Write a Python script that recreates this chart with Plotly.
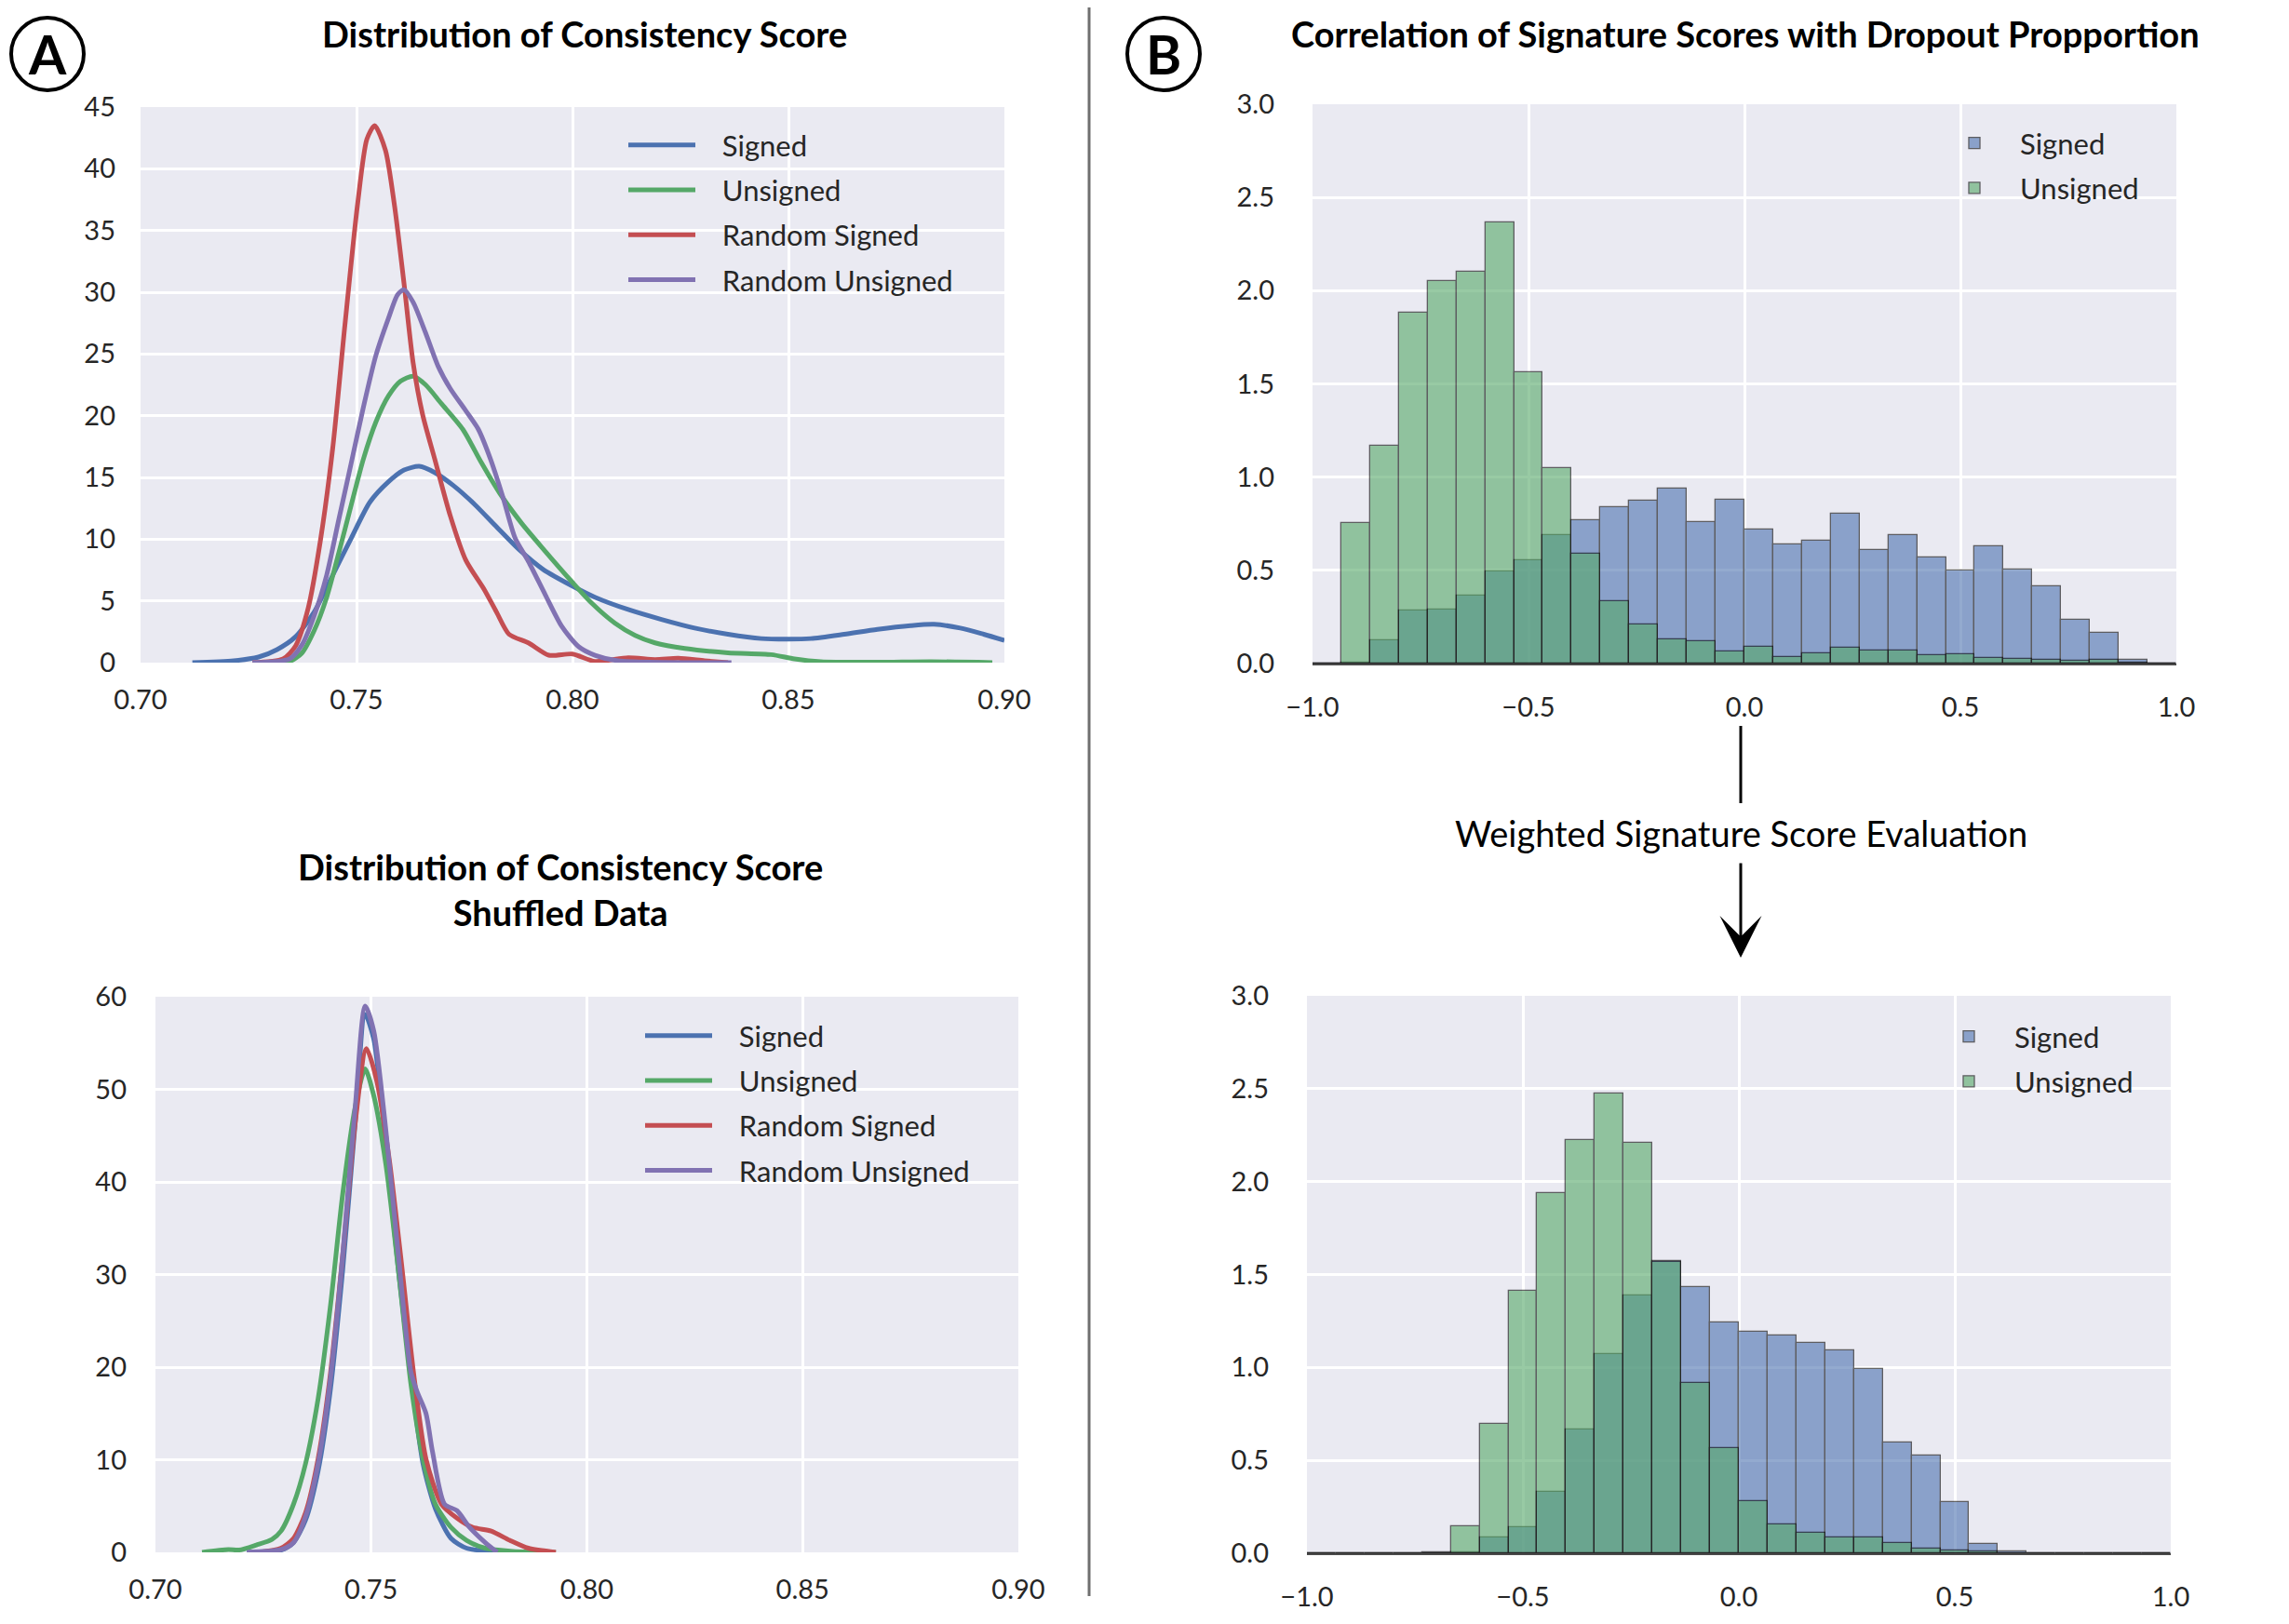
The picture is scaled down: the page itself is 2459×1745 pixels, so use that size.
import numpy as np
import plotly.graph_objects as go

# the page body adds an 8 px margin, so the figure is sized to fit inside the window
PAGE_W, PAGE_H, OFF = 2459, 1745, 8
W, H = PAGE_W - 2 * OFF, PAGE_H - 2 * OFF
FONT = "Lato"
BG = "#EAEAF2"
TICK = "#262626"
COLORS = {"Signed": "#4C72B0", "Unsigned": "#55A868",
          "Random Signed": "#C44E52", "Random Unsigned": "#8172B2"}

# %% Panel A (top): density of consistency score
a1_signed_x = [0.712, 0.7216, 0.7273, 0.7316, 0.7359, 0.7402, 0.7445, 0.7488, 0.7531,
               0.7574, 0.761, 0.7645, 0.7681, 0.7724, 0.7774, 0.7824, 0.7875, 0.7932,
               0.800, 0.8052, 0.8129, 0.8206, 0.8283, 0.836, 0.8437, 0.8498, 0.8552,
               0.8629, 0.8706, 0.8783, 0.8837, 0.8898, 0.8952, 0.900]
a1_signed_y = [0, 0.15, 0.45, 1.06, 2.1, 4.1, 7.1, 10.1, 13.0, 14.65, 15.6, 15.9, 15.4,
               14.35, 12.8, 11.0, 9.2, 7.55, 6.2, 5.3, 4.3, 3.5, 2.8, 2.3, 1.95, 1.9,
               1.95, 2.3, 2.7, 3.0, 3.1, 2.8, 2.3, 1.8]

a1_unsigned_x = [0.7287, 0.7345, 0.7373, 0.7402, 0.7431, 0.7459, 0.7488, 0.7516, 0.7545,
                 0.7574, 0.7602, 0.7631, 0.766, 0.7696, 0.7746, 0.7789, 0.7832, 0.7882,
                 0.7935, 0.800, 0.8045, 0.8098, 0.8145, 0.8191, 0.826, 0.836, 0.846,
                 0.8514, 0.8575, 0.8706, 0.8829, 0.8972]
a1_unsigned_y = [0, 0.1, 0.75, 2.6, 5.3, 8.9, 12.8, 16.5, 19.5, 21.6, 22.8, 23.2, 22.5,
                 21.0, 18.9, 16.2, 13.7, 11.3, 9.1, 6.5, 4.8, 3.2, 2.2, 1.6, 1.15, 0.8,
                 0.65, 0.3, 0.07, 0.03, 0.08, 0]

a1_rand_signed_x = [0.7259, 0.733, 0.7359, 0.7388, 0.7416, 0.7445, 0.7473, 0.7502, 0.7524,
                    0.7542, 0.7567, 0.7588, 0.761, 0.7631, 0.7653, 0.7681, 0.7717, 0.7753,
                    0.7796, 0.7824, 0.7853, 0.7898, 0.7945, 0.800, 0.8052, 0.8129, 0.8191,
                    0.8245, 0.8306, 0.836]
a1_rand_signed_y = [0, 0.3, 1.36, 4.4, 9.8, 17.4, 27.3, 37.0, 42.4, 43.5, 41.5, 37.0, 30.7,
                    24.3, 20.1, 16.5, 11.9, 8.3, 5.9, 4.1, 2.3, 1.6, 0.6, 0.7, 0.1, 0.4,
                    0.25, 0.35, 0.15, 0]

a1_rand_unsigned_x = [0.7259, 0.7345, 0.7373, 0.7402, 0.7431, 0.7459, 0.7488, 0.7516,
                      0.7545, 0.7574, 0.7595, 0.761, 0.7631, 0.766, 0.7689, 0.7717, 0.7753,
                      0.7782, 0.781, 0.7839, 0.7867, 0.7898, 0.7937, 0.7975, 0.8014,
                      0.8052, 0.8106, 0.8368]
a1_rand_unsigned_y = [0, 0.3, 1.4, 3.8, 7.1, 11.6, 16.2, 20.7, 24.9, 27.9, 29.8, 30.2, 29.2,
                      26.7, 24.0, 22.2, 20.4, 18.9, 16.5, 13.4, 10.1, 8.2, 5.5, 2.95, 1.3,
                      0.6, 0.15, 0]

# %% Panel A (bottom): shuffled data
a2_signed_x = [0.7212, 0.7291, 0.732, 0.7348, 0.7377, 0.7405, 0.7434, 0.7463, 0.7486,
               0.7506, 0.7534, 0.7563, 0.7592, 0.762, 0.7649, 0.7685, 0.7721, 0.7778, 0.7828]
a2_signed_y = [0, 0.25, 1.06, 3.5, 8.8, 17.4, 30.5, 46.4, 58.1, 55.4, 44.0, 30.5, 19.1,
               9.6, 4.7, 1.5, 0.45, 0.1, 0]

a2_unsigned_x = [0.7108, 0.7169, 0.7194, 0.7234, 0.727, 0.7291, 0.732, 0.7348, 0.7377,
                 0.7405, 0.7434, 0.7463, 0.7486, 0.7506, 0.7534, 0.7563, 0.7592, 0.762,
                 0.7649, 0.7685, 0.7721, 0.7764, 0.7828, 0.7928]
a2_unsigned_y = [0, 0.3, 0.25, 0.8, 1.4, 2.3, 5.2, 9.6, 16.6, 26.4, 38.7, 48.1, 52.2, 49.3,
                 41.9, 30.5, 18.2, 10.1, 5.2, 2.7, 1.3, 0.45, 0.1, 0]

a2_rand_signed_x = [0.7241, 0.7291, 0.732, 0.7348, 0.7377, 0.7405, 0.7434, 0.7463, 0.7489,
                    0.7513, 0.7542, 0.757, 0.7599, 0.7627, 0.7663, 0.7699, 0.7735, 0.7778,
                    0.7821, 0.7864, 0.7928]
a2_rand_signed_y = [0, 0.45, 1.5, 4.3, 10.1, 19.1, 32.1, 46.4, 54.4, 50.9, 42.4, 31.3,
                    19.1, 10.1, 5.2, 3.7, 2.7, 2.3, 1.3, 0.45, 0]

a2_rand_unsigned_x = [0.7212, 0.7291, 0.732, 0.7348, 0.7377, 0.7405, 0.7434, 0.7463,
                      0.7486, 0.7506, 0.7534, 0.7563, 0.7592, 0.7606, 0.7627, 0.7642,
                      0.767, 0.7699, 0.7728, 0.7764, 0.7792]
a2_rand_unsigned_y = [0, 0.3, 1.06, 3.9, 9.6, 18.6, 32.1, 48.1, 59.0, 56.3, 45.6, 32.1,
                      19.5, 17.4, 15.0, 10.9, 5.2, 4.5, 2.7, 1.06, 0]

# %% Panel B: histograms, 30 bins over [-1, 1]
bin_edges = np.linspace(-1, 1, 31)
bin_mid = (bin_edges[:-1] + bin_edges[1:]) / 2
bin_w = bin_edges[1] - bin_edges[0]

b1_signed = [0, 0.005, 0.124, 0.285, 0.290, 0.365, 0.494, 0.553, 0.689, 0.769, 0.839,
             0.875, 0.936, 0.758, 0.881, 0.719, 0.639, 0.658, 0.806, 0.608, 0.689,
             0.567, 0.500, 0.628, 0.505, 0.412, 0.234, 0.165, 0.018, 0]
b1_unsigned = [0, 0.756, 1.169, 1.881, 2.050, 2.100, 2.364, 1.561, 1.047, 0.589, 0.335,
               0.209, 0.131, 0.120, 0.067, 0.089, 0.033, 0.054, 0.085, 0.069, 0.071,
               0.043, 0.051, 0.028, 0.027, 0.022, 0.014, 0.022, 0.007, 0]

b2_signed = [0, 0, 0, 0, 0.003, 0.007, 0.084, 0.140, 0.331, 0.665, 1.070, 1.388, 1.575,
             1.433, 1.240, 1.193, 1.173, 1.131, 1.092, 0.994, 0.595, 0.528, 0.276, 0.048,
             0.012, 0, 0, 0, 0, 0]
b2_unsigned = [0, 0, 0, 0, 0, 0.143, 0.696, 1.411, 1.936, 2.223, 2.475, 2.207, 1.570,
               0.919, 0.564, 0.279, 0.154, 0.110, 0.084, 0.084, 0.057, 0.027, 0.017,
               0.012, 0, 0, 0, 0, 0, 0]


def fx(px):
    return (px - OFF) / W


def fy(py):
    return 1 - (py - OFF) / H


GAP = "\u00a0\u00a0\u00a0"  # room between legend swatch and label

fig = go.Figure()

kde_panels = [
    ("x", "y", "legend", [
        ("Signed", a1_signed_x, a1_signed_y),
        ("Unsigned", a1_unsigned_x, a1_unsigned_y),
        ("Random Signed", a1_rand_signed_x, a1_rand_signed_y),
        ("Random Unsigned", a1_rand_unsigned_x, a1_rand_unsigned_y)]),
    ("x2", "y2", "legend2", [
        ("Signed", a2_signed_x, a2_signed_y),
        ("Unsigned", a2_unsigned_x, a2_unsigned_y),
        ("Random Signed", a2_rand_signed_x, a2_rand_signed_y),
        ("Random Unsigned", a2_rand_unsigned_x, a2_rand_unsigned_y)]),
]
for xa, ya, leg, series in kde_panels:
    for name, xs, ys in series:
        fig.add_trace(go.Scatter(x=xs, y=ys, mode="lines", name=GAP + name,
                                 line=dict(color=COLORS[name], width=5,
                                           shape="spline", smoothing=0.7),
                                 xaxis=xa, yaxis=ya, legend=leg,
                                 legendgroup=leg + name))

hist_panels = [("x3", "y3", "legend3", b1_signed, b1_unsigned),
               ("x4", "y4", "legend4", b2_signed, b2_unsigned)]
for xa, ya, leg, sig, uns in hist_panels:
    for name, vals in (("Signed", sig), ("Unsigned", uns)):
        fig.add_trace(go.Bar(x=bin_mid, y=vals, width=bin_w, name=name,
                             marker=dict(color=COLORS[name],
                                         line=dict(color="black", width=1.3)),
                             opacity=0.6, xaxis=xa, yaxis=ya, legend=leg,
                             legendgroup=leg + name))

tickfont = dict(family=FONT, size=29, color=TICK)
base_axis = dict(showgrid=True, gridcolor="white", gridwidth=3, zeroline=False,
                 showline=False, ticks="", tickfont=tickfont, automargin=False)

kde_x = dict(base_axis, range=[0.70, 0.90], tick0=0.70, dtick=0.05, tickformat=".2f",
             ticklabelstandoff=20)
hist_x = dict(base_axis, range=[-1, 1], tick0=-1, dtick=0.5, tickformat=".1f",
              ticklabelstandoff=20, showline=True, linecolor="#4a4a4a", linewidth=2)
hist_y = dict(base_axis, range=[0, 3], tick0=0, dtick=0.5, tickformat=".1f",
              ticklabelstandoff=40)

line_legend = dict(xanchor="left", yanchor="top", bgcolor="rgba(0,0,0,0)",
                   font=dict(family=FONT, size=31, color=TICK), tracegroupgap=5,
                   itemwidth=72)
bar_legend = dict(line_legend, itemwidth=88)

fig.update_layout(
    width=W, height=H, margin=dict(l=0, r=0, t=0, b=0, autoexpand=False),
    paper_bgcolor="white", plot_bgcolor=BG, barmode="overlay", bargap=0,
    xaxis=dict(kde_x, domain=[fx(151), fx(1079)], anchor="y"),
    yaxis=dict(base_axis, domain=[fy(712), fy(115)], range=[0, 45], dtick=5,
               ticklabelstandoff=26, anchor="x"),
    xaxis2=dict(kde_x, domain=[fx(167), fx(1094)], anchor="y2"),
    yaxis2=dict(base_axis, domain=[fy(1668), fy(1071)], range=[0, 60], dtick=10,
                ticklabelstandoff=30, anchor="x2"),
    xaxis3=dict(hist_x, domain=[fx(1410), fx(2338)], anchor="y3"),
    yaxis3=dict(hist_y, domain=[fy(713), fy(112)], anchor="x3"),
    xaxis4=dict(hist_x, domain=[fx(1404), fx(2332)], anchor="y4"),
    yaxis4=dict(hist_y, domain=[fy(1669), fy(1070)], anchor="x4"),
    legend=dict(line_legend, x=fx(670), y=fy(129)),
    legend2=dict(line_legend, x=fx(688), y=fy(1086)),
    legend3=dict(bar_legend, x=fx(2072), y=fy(127)),
    legend4=dict(bar_legend, x=fx(2066), y=fy(1087)),
    showlegend=True,
)

title_font = dict(family=FONT, size=38, color="black")
annotations = [
    dict(text="<b>Distribution of Consistency Score</b>", x=fx(628), y=fy(36),
         font=title_font),
    dict(text="<b>Distribution of Consistency Score</b><br><b>Shuffled Data</b>",
         x=fx(602), y=fy(955), font=title_font),
    dict(text="<b>Correlation of Signature Scores with Dropout Propportion</b>",
         x=fx(1875), y=fy(36), font=title_font),
    dict(text="Weighted Signature Score Evaluation", x=fx(1870), y=fy(895),
         font=dict(family=FONT, size=38, color="black")),
]
# panel letters
for letter, cx in (("A", 51), ("B", 1250)):
    annotations.append(dict(text=f"<b>{letter}</b>", x=fx(cx), y=fy(58),
                            font=dict(family=FONT, size=58, color="black")))
for a in annotations:
    a.update(xref="paper", yref="paper", showarrow=False, xanchor="center",
             yanchor="middle")
# arrow into the weighted panel
annotations.append(dict(text="", x=fx(1870), y=fy(1029), ax=0, ay=-103, xref="paper",
                        yref="paper", showarrow=True, arrowhead=3, arrowsize=2.5,
                        arrowwidth=3, arrowcolor="black"))
fig.update_layout(annotations=annotations)

shapes = []
for cx in (51, 1250):
    shapes.append(dict(type="circle", xref="paper", yref="paper",
                       x0=fx(cx - 39), x1=fx(cx + 39), y0=fy(58 + 39), y1=fy(58 - 39),
                       line=dict(color="black", width=4)))
shapes.append(dict(type="line", xref="paper", yref="paper", x0=fx(1170), x1=fx(1170),
                   y0=fy(OFF), y1=fy(1715), line=dict(color="#707070", width=3)))
shapes.append(dict(type="line", xref="paper", yref="paper", x0=fx(1870), x1=fx(1870),
                   y0=fy(780), y1=fy(863), line=dict(color="black", width=3)))
fig.update_layout(shapes=shapes)

fig.write_html("out.html")
